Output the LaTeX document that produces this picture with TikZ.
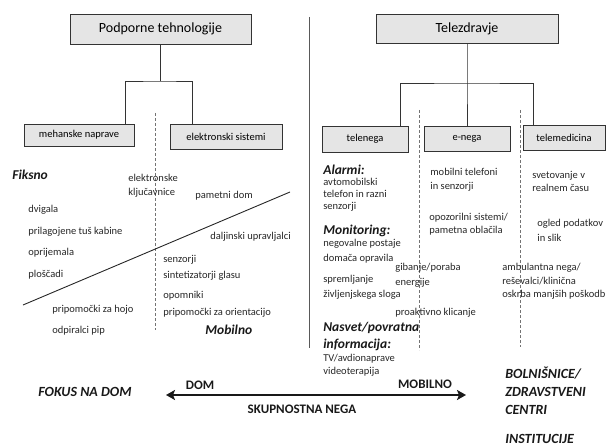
\documentclass[tikz,border=0pt]{standalone}
\usepackage{fontspec}
\setmainfont{Carlito}
\usepackage{tikz}
\usetikzlibrary{arrows.meta}

\newcommand{\itemfont}{\fontsize{10.5}{14}\selectfont}
\newcommand{\headfont}{\fontsize{13.5}{17}\selectfont\bfseries\itshape}
\newcommand{\capsfont}{\fontsize{14}{18}\selectfont\bfseries\itshape}

\begin{document}
\begin{tikzpicture}[x=1pt, y=-1pt, >={Stealth[length=9pt, width=10pt, inset=2pt]}, line width=0.7pt,
  box/.style={draw=black!80, fill=black!10, inner sep=0pt, font=\itemfont},
  item/.style={anchor=west, inner sep=0pt, align=left, font=\itemfont, text=black!85},
  head/.style={anchor=west, inner sep=0pt, align=left, font=\headfont, text=black!90},
  caps/.style={anchor=west, inner sep=0pt, align=left, font=\capsfont, text=black!90},
  axis/.style={anchor=center, inner sep=0pt, font=\fontsize{13}{15}\selectfont\bfseries, text=black!90},
  divide/.style={draw=black!55, densely dashed, line width=0.8pt}]

\useasboundingbox (0,0) rectangle (607,446);

% title boxes
\node[box, minimum width=181pt, minimum height=30pt, font=\fontsize{14}{16}\selectfont] (pt) at (160.5,29) {Podporne tehnologije};
\node[box, minimum width=182pt, minimum height=29pt, font=\fontsize{14}{16}\selectfont] (tz) at (467,28.5) {Telezdravje};

% left branch boxes
\node[box, minimum width=110pt, minimum height=22pt] (mn) at (79,135) {mehanske naprave};
\node[box, minimum width=112pt, minimum height=25pt] (es) at (226,136.5) {elektronski sistemi};

% right branch boxes
\node[box, minimum width=86pt, minimum height=26pt] (tn) at (365,139) {telenega};
\node[box, minimum width=86pt, minimum height=25pt] (en) at (467,138.5) {e-nega};
\node[box, minimum width=82pt, minimum height=25pt] (tm) at (564,137.5) {telemedicina};

% tree connectors
\coordinate (pjunc) at (160.5,81);
\coordinate (ml) at (125,124);
\coordinate (mr) at (192,124);
\draw[black!80] (pt.south) -- (pjunc);
\draw[black!80] (ml) |- (pjunc) -| (mr);

\coordinate (tjunc) at (467,83);
\coordinate (tl) at (400,126);
\coordinate (tr) at (533,125);
\draw[black!80] (tz.south) -- (tjunc) -- (en.north);
\draw[black!80] (tl) |- (tjunc) -| (tr);

% separators
\coordinate (sepT) at (309,17);
\coordinate (sepB) at (309,348);
\draw[black!65, line width=1pt] (sepT) -- (sepB);
\coordinate (d1T) at (155,113);
\coordinate (d1B) at (155,330);
\coordinate (d2T) at (419,110);
\coordinate (d2B) at (419,350);
\coordinate (d3T) at (520,110);
\coordinate (d3B) at (520,347);
\draw[divide] (d1T) -- (d1B);
\draw[divide] (d2T) -- (d2B);
\draw[divide] (d3T) -- (d3B);

% fixed / mobile diagonal
\coordinate (diagL) at (23,305);
\coordinate (diagR) at (290,192);
\draw[black!85, line width=0.9pt] (diagL) -- (diagR);

% supporting technologies
\node[head] (fiks) at (12,175) {Fiksno};
\node[item] (kljuc) at (128,186) {elektronske\\ključavnice};
\node[item] (pdom) at (195,196) {pametni dom};
\node[item] (dvig) at (28,210) {dvigala};
\node[item] (tus) at (28,232) {prilagojene tuš kabine};
\node[item] (dalj) at (210,237) {daljinski upravljalci};
\node[item] (oprij) at (28,253) {oprijemala};
\node[item] (senz) at (163,260) {senzorji};
\node[item] (plosc) at (28,275) {ploščadi};
\node[item] (sint) at (163,276) {sintetizatorji glasu};
\node[item] (opom) at (163,296) {opomniki};
\node[item] (hoja) at (52,310) {pripomočki za hojo};
\node[item] (orient) at (163,313) {pripomočki za orientacijo};
\node[item] (pip) at (52,331) {odpiralci pip};
\node[head] (mob) at (205,330) {Mobilno};

% telehealth
\node[head] (alarm) at (323,170) {Alarmi:};
\node[item, font=\fontsize{10.5}{12}\selectfont] (avto) at (323,195) {avtomobilski\\telefon in razni\\senzorji};
\node[head] (monit) at (323,231) {Monitoring:};
\node[item] (negp) at (323,244) {negovalne postaje};
\node[item] (doma) at (323,259) {domača opravila};
\node[item, font=\fontsize{10.5}{15}\selectfont] (sprem) at (323,287.5) {spremljanje\\življenjskega sloga};
\node[head] (nasvet) at (323,336.5) {Nasvet/povratna\\informacija:};
\node[item, font=\fontsize{10.5}{13}\selectfont] (tv) at (323,365.5) {TV/avdionaprave\\videoterapija};

\node[item] (mobtel) at (430,180) {mobilni telefoni\\in senzorji};
\node[item, font=\fontsize{10.5}{13}\selectfont] (opoz) at (429,224.5) {opozorilni sistemi/\\pametna oblačila};
\node[item, font=\fontsize{10.5}{15}\selectfont] (giban) at (395,275.5) {gibanje/poraba\\energije};
\node[item] (proakt) at (395,313) {proaktivno klicanje};

\node[item, font=\fontsize{10.5}{13}\selectfont] (svet) at (532,181.5) {svetovanje v\\realnem času};
\node[item, font=\fontsize{10.5}{15}\selectfont] (ogled) at (537,230.5) {ogled podatkov\\in slik};
\node[item, font=\fontsize{10.5}{13.5}\selectfont] (amb) at (502,281.5) {ambulantna nega/\\reševalci/klinična\\oskrba manjših poškodb};

% bottom axis
\node[caps] (fokus) at (38,392) {FOKUS NA DOM};
\node[caps] (bolnis) at (505,391) {BOLNIŠNICE/\\ZDRAVSTVENI\\CENTRI};
\node[caps] (instit) at (505,439) {INSTITUCIJE};
\coordinate (axL) at (166,395);
\coordinate (axR) at (466,395);
\draw[<->, line width=2.2pt, black!90] (axL) -- (axR);
\node[axis] (dom) at (200,385) {DOM};
\node[axis] (mobilno) at (425,384) {MOBILNO};
\node[axis] (skup) at (302,409) {SKUPNOSTNA NEGA};

\end{tikzpicture}
\end{document}
